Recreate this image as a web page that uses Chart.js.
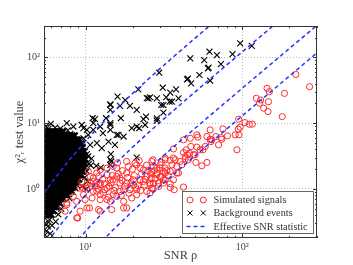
<!DOCTYPE html>
<html><head><meta charset="utf-8">
<script src="https://cdn.jsdelivr.net/npm/chart.js@4/dist/chart.umd.min.js"></script>
<style>html,body{margin:0;padding:0;background:#fff}#c{display:block}</style>
</head><body>
<canvas id="c" width="353" height="265"></canvas>
<script>
// ---- axis ranges / tick labels ----
const xRange = [5.43, 300];
const yRange = [0.18, 300];
const superscripts = {'-1':'⁻¹', '0':'⁰', '1':'¹', '2':'²', '3':'³'};

// ---- legend labels ----
const legendLabels = ['Simulated signals', 'Background events', 'Effective SNR statistic'];

// ---- effective SNR statistic contours (rho_eff = 5, 8, 11, 14) ----
const contourRho = [5.4, 6, 7, 8, 10, 12, 15, 20, 25, 30, 40, 50, 60, 80, 100, 150, 200, 300];
const contour5  = [0.859, 1.206, 1.94, 2.874, 5.333, 8.55, 14.73, 28.44, 46.3, 68.2, 124.1, 196.1, 284.1, 508, 796, 1796, 3196, 7196];
const contour8  = [0.1311, 0.184, 0.296, 0.4386, 0.8138, 1.305, 2.247, 4.34, 7.064, 10.41, 18.94, 29.92, 43.34, 77.52, 121.5, 274.0, 487.7, 1098];
const contour11 = [0.0367, 0.0515, 0.0828, 0.1227, 0.2277, 0.365, 0.6287, 1.2142, 1.976, 2.912, 5.298, 8.37, 12.126, 21.69, 33.98, 76.67, 136.4, 307.2];
const contour14 = [0.01398, 0.01961, 0.03157, 0.04676, 0.08677, 0.1391, 0.2396, 0.4628, 0.7532, 1.1097, 2.019, 3.19, 4.621, 8.265, 12.95, 29.22, 52.0, 117.1];

// ---- simulated signals [rho, chi2_r] ----
const signalPoints = [
[220,55],[269,35.9],[144,33.9],[149,30.1],[186,28.4],[123,23.9],[131,22.5],[147,21.2],[129,20.1],[137,16.9],[146,15],[180,12.6],[94.9,11.5],[104,10.2],[111,9.66],[116,9.66],[97,8.7],[94.3,8.1],[75.3,8.2],[62.4,7.9],[90.2,6.65],[95.3,6.65],[80.5,6.43],[52.1,6.14],[59.5,6.27],[62.4,5.7],[73.4,6.05],[73.9,5.7],[67.9,6.27],[63.1,5.26],[70.6,4.69],[58.1,4.43],[56.1,3.94],[48.9,3.31],[36.4,4.07],[43.9,3.94],[47,4.43],[51.3,4.33],[42.2,3.58],[43.3,3.12],[44.8,3.31],[43.3,2.88],[46,3.5],[92.5,3.94],[37.3,2.78],[32.2,2.95],[34.7,2.72],[26.9,2.78],[41.2,2.33],[50.6,2.53],[55.2,2.25],[59.5,2.53],[29.9,2.33],[28.5,2.08],[32.2,2.08],[26.5,1.85],[31.4,1.85],[39.2,1.75],[33.8,1.59],[29.9,1.52],[31.4,1.38],[27.8,1.42],[36.4,1.38],[34.7,1.2],[31.4,1.23],[27.1,1.23],[29.2,1.09],[36.8,0.976],[42.2,1.07],[26.5,1.03],[25.8,0.87],
[42.2,5.58],[46.6,5.9],[51.3,6.65],[64,5.58],[53.9,3.94],[50,3.31],[40.2,2.62],[45.3,2.78],[34.7,1.85],[38.2,1.75],[34.7,1.05],
[15.8,2.08],[18.8,2.2],[21.2,2.33],[22.3,2.08],[27.1,2.2],[28.5,1.75],[13.7,1.65],[12.1,1.55],[10.7,1.55],[11.2,1.3],[12.4,1.23],[14.4,1.38],[16.6,1.47],[18.3,1.23],[20.2,1.38],[23.4,1.3],[25.8,1.16],[29.2,1.23],[24.6,0.92],[21.2,0.82],[19.2,0.976],[16.6,0.92],[15,0.82],[13.3,0.976],[11.8,0.92],[10.2,1.03],[9.7,0.82],[11,0.73],[12.4,0.689],[14.4,0.648],[17.5,0.648],[19.7,0.73],[18.3,0.515],[14.7,0.486],[12.1,0.486],[10.2,0.515],[8.79,0.648],[7.59,0.614],[7.4,0.46],[8.79,0.364],[12.4,0.46],[9.23,1.03],[9.46,1.3],[10.4,1.85],
[7.59,0.578],[8.92,0.364],[9.23,0.46],[10.6,0.515],[17.5,0.515],[9.93,0.689],[13.7,0.689],[9.7,1.03],[10.7,1.23],[11.2,1.47],[11.8,1.75],[12.4,1.96],[13.7,2.08],[15,2.2],[18.3,2.62],[20.7,2.48],[23.4,1.96],[26.5,2.62],[29.9,2.08],[32.2,2.78],[36.4,2.95],[35.6,2.33],[38.2,2.2],[15.8,1.55],[18.3,1.75],[16.6,1.23],[20.2,1.16],[22.3,1.38],[24.6,1.55],[21.2,0.976],[25.8,1.23],[28.5,1.65],[32.2,1.75],[32.2,1.38],[13.7,1.03],[12.4,1.16],[15,1.38],[11.2,0.92],[8.36,0.77],[12.4,0.82],[15.8,0.77],[17.5,0.976],
[11.5,1.1],[12.9,1.4],[13.2,1.2],[14.1,1.1],[14.8,1.6],[15.5,1.05],[16.2,1.7],[17.1,1.35],[17.8,1.1],[18.6,1.5],[19.5,1.25],[20.5,1.6],[21.6,1.12],[22.8,1.7],[24,1.4],[25,1.9],[26.2,1.45],[27.5,1.9],[30.5,1.55],[33,1.9],[12,1.0],[13,0.88],[14,0.75],[15.2,0.95],[16.9,0.8],[18.9,0.86],[20.9,1.05],[22.5,0.95],[23.8,1.15],[27,1.0],[19.9,2.0],[17.2,1.9],[24.5,2.3],[26,1.7],[16,2.5],[22,2.7],[30.5,2.55],[11.8,1.28],[10.9,1.1],[14.6,1.25]
];

// ---- background events: dense core (rows of chi2 level with rho values) ----
const bgDenseChi2 = [7.41, 6.46, 5.62, 4.90, 4.27, 3.72, 3.24, 2.82, 2.45, 2.14, 1.86, 1.62, 1.41, 1.23, 1.07, 0.933, 0.813, 0.708, 0.617, 0.537, 0.468, 0.407];
const bgDenseRho = [
[5.45,5.7,5.92,6.22,6.5,6.8,7.1],
[5.56,5.8,6.05,6.33,6.63,6.9,7.25,7.55,7.9,8.2,8.5],
[5.45,5.67,5.94,6.2,6.47,6.78,7.06,7.4,7.7,8.08,8.42,8.8,9.1],
[5.56,5.82,6.06,6.35,6.6,6.93,7.22,7.56,7.88,8.26,8.6,9.0,9.42],
[5.45,5.69,5.93,6.19,6.49,6.76,7.08,7.38,7.73,8.06,8.44,8.8,9.2,9.55],
[5.56,5.8,6.07,6.34,6.61,6.92,7.24,7.54,7.9,8.24,8.63,9.0,9.38,9.7],
[5.45,5.68,5.94,6.2,6.48,6.78,7.06,7.4,7.72,8.08,8.42,8.82,9.2,9.58,9.8],
[5.56,5.81,6.06,6.33,6.62,6.91,7.23,7.56,7.88,8.26,8.61,9.02,9.4,9.78,9.95],
[5.45,5.68,5.93,6.21,6.47,6.77,7.08,7.39,7.72,8.07,8.43,8.8,9.21,9.6,9.92],
[5.56,5.8,6.06,6.34,6.62,6.92,7.23,7.55,7.89,8.25,8.62,9.0,9.4,9.78],
[5.45,5.68,5.93,6.2,6.48,6.77,7.07,7.39,7.72,8.07,8.43,8.81,9.2,9.62],
[5.56,5.8,6.06,6.34,6.62,6.92,7.23,7.55,7.89,8.25,8.62,9.0,9.35],
[5.45,5.68,5.93,6.2,6.48,6.77,7.07,7.39,7.72,8.07,8.43,8.81,9.05],
[5.56,5.8,6.06,6.34,6.62,6.92,7.23,7.55,7.89,8.25,8.65],
[5.45,5.68,5.93,6.2,6.48,6.77,7.07,7.39,7.72,8.07,8.4],
[5.56,5.8,6.06,6.34,6.62,6.92,7.23,7.55,7.89,8.12],
[5.45,5.68,5.93,6.2,6.48,6.77,7.07,7.39,7.66],
[5.56,5.8,6.06,6.34,6.62,6.92,7.22],
[5.45,5.68,5.93,6.2,6.48,6.8],
[5.56,5.8,6.06,6.34,6.5],
[5.45,5.68,5.93,6.22],
[5.56,5.8,6.04]
];
// ---- background events: scattered [rho, chi2_r] ----
const bgSparse = [
[97,163],[115,150],[61.8,122],[68.9,108],[86.7,112],[46.6,96.6],[57.2,91],[73.1,79],[60.4,68],[61,70],[29.5,58.5],[53.3,54],[44.4,46.4],[45,47.5],[62.4,44.2],[47.2,40.4],[31.1,34.6],[37.8,32.7],[34.7,29.1],[32.7,24.8],[28.5,23.9],[39.2,23.9],[34.4,21.2],[25.8,24.8],[30.4,18.9],[31.4,14.5],[28.5,10.9],
[21.7,32.7],[16,25.3],[14.4,18.9],[16.6,18.3],[17.9,22.5],[19.2,18.3],[25.2,23.9],[35.6,21.2],[31.4,18.9],[21.2,15.9],[24.3,12.6],[23.4,11.5],[28.5,11.8],[14.4,15.9],[16.8,11.9],[13.5,11.9],[14.4,10],[11.5,11.5],[11.2,7.9],[12.4,8.9],[14.4,7.9],[19.7,8.4],[21.2,8.9],[22,8.4],[24,9.4],[12.9,7.05],[15.8,6.65],[9.46,9.4],[10.2,7.9],[7.59,10],
[14.4,19.4],[24.6,24],[11.1,11.9],[14.4,9.4],[16.2,6.65],[17.5,6.27],[14,5.26],[15.4,4.69],[11.8,4.98],[12.7,4.18],[14.5,3.39],[21.2,3.01],[14.6,2.62],[12.5,2.12],[11.7,2.25],[10.8,2.28],[10.2,1.85],
[9.7,8.4],[8.36,8.9],[11.2,10],[10.4,6.65],[9.7,5.9],[10.7,4.69],[9.93,3.72],[10.4,3.12],[9.7,2.62],[9.23,1.85],[14.4,2.78],[14.4,2.33],
[5.6,9.0],[6.0,9.8],[6.4,8.6],[6.9,8.3],[5.8,8.2],[7.7,7.8],[8.0,6.9],[7.3,7.6],
[9.9,1.5],[10.3,1.3],[9.5,1.1],[10.1,1.0],[9.8,2.0],[10.5,2.4],[10.9,2.9],[10.2,3.4],
[5.5,0.36],[5.9,0.34],[5.5,0.3],[5.75,0.27],[6.1,0.28],[5.62,0.23],[5.95,0.21],[6.45,0.32],[6.7,0.41],[6.22,0.46],[7.0,0.5],[5.65,0.29],[5.5,0.2],[6.9,0.6],[7.4,0.82],[7.9,0.72],[8.3,0.9],[8.6,1.02],[8.8,1.15]
];

// ---- build datasets ----
const toXY = arr => arr.map(p => ({x: p[0], y: p[1]}));
const bgCore = [];
bgDenseChi2.forEach((c, i) => bgDenseRho[i].forEach(r => bgCore.push({x: r, y: c})));
const contourData = ys => contourRho.map((r, i) => ({x: r, y: ys[i]}));

const BLUE = '#2233ff', RED = '#ff2a2a', SERIF = "'Liberation Serif', 'Times New Roman', serif", TXT = '#444';

const lineDs = (ys) => ({
  data: contourData(ys), showLine: true, pointRadius: 0, borderColor: BLUE, borderWidth: 1.5,
  borderDash: [4, 3], fill: false, order: 0, clip: 0
});

const isPow10 = v => { const e = Math.log10(v); return Math.abs(e - Math.round(e)) < 1e-6; };
const isNiceTick = v => { const e = Math.floor(Math.log10(v) + 1e-9); const s = v / Math.pow(10, e); return Math.abs(s - Math.round(s)) < 1e-6; };
const tickLabel = v => isPow10(v) ? '10' + superscripts[String(Math.round(Math.log10(v)))] : '';

const framePlugin = {
  id: 'frameLegend',
  afterDatasetsDraw(chart) {
    const {ctx, chartArea: a, scales: {x, y}} = chart;
    ctx.save();
    ctx.strokeStyle = '#333'; ctx.lineWidth = 1;
    ctx.beginPath();
    x.ticks.forEach(t => {
      if (!isNiceTick(t.value)) return;
      const px = Math.round(x.getPixelForValue(t.value)) + 0.5;
      const L = isPow10(t.value) ? 4 : 2;
      ctx.moveTo(px, a.bottom); ctx.lineTo(px, a.bottom - L);
      ctx.moveTo(px, a.top); ctx.lineTo(px, a.top + L);
    });
    y.ticks.forEach(t => {
      if (!isNiceTick(t.value)) return;
      const py = Math.round(y.getPixelForValue(t.value)) + 0.5;
      const L = isPow10(t.value) ? 4 : 2;
      ctx.moveTo(a.left, py); ctx.lineTo(a.left + L, py);
      ctx.moveTo(a.right, py); ctx.lineTo(a.right - L, py);
    });
    ctx.stroke();
    ctx.strokeRect(a.left + 0.5, a.top + 0.5, a.right - a.left - 1, a.bottom - a.top - 1);

    // legend box (inside axes, lower right)
    const w = 131, h = 42;
    const bx = Math.round(a.right - 4 - w) + 0.5, by = Math.round(a.bottom - 5 - h) + 0.5;
    ctx.fillStyle = '#fff';
    ctx.fillRect(bx, by, w, h);
    ctx.strokeStyle = '#666'; ctx.lineWidth = 1;
    ctx.strokeRect(bx, by, w, h);
    const rows = [by + 8.5, by + 21.5, by + 35];
    const m1 = bx + 7.5, m2 = bx + 20.8;
    ctx.strokeStyle = RED; ctx.lineWidth = 1;
    [m1, m2].forEach(mx => { ctx.beginPath(); ctx.arc(mx, rows[0], 3, 0, Math.PI * 2); ctx.stroke(); });
    ctx.strokeStyle = '#000';
    [m1, m2].forEach(mx => {
      ctx.beginPath();
      ctx.moveTo(mx - 2.5, rows[1] - 2.5); ctx.lineTo(mx + 2.5, rows[1] + 2.5);
      ctx.moveTo(mx + 2.5, rows[1] - 2.5); ctx.lineTo(mx - 2.5, rows[1] + 2.5);
      ctx.stroke();
    });
    ctx.strokeStyle = BLUE; ctx.lineWidth = 1.5; ctx.setLineDash([4, 3]);
    ctx.beginPath(); ctx.moveTo(m1 - 3.5, rows[2]); ctx.lineTo(m2 + 3.5, rows[2]); ctx.stroke();
    ctx.setLineDash([]);
    ctx.fillStyle = '#333';
    ctx.font = '10.3px ' + SERIF;
    ctx.textBaseline = 'middle'; ctx.textAlign = 'left';
    legendLabels.forEach((t, i) => ctx.fillText(t, bx + 31, rows[i] + 0.5));
    ctx.restore();
  }
};

new Chart(document.getElementById('c'), {
  type: 'scatter',
  data: {
    datasets: [
      lineDs(contour5), lineDs(contour8), lineDs(contour11), lineDs(contour14),
      { data: toXY(signalPoints), pointStyle: 'circle', pointRadius: 3.1, pointBorderWidth: 1,
        borderColor: RED, backgroundColor: 'rgba(0,0,0,0)', order: 1, clip: 0 },
      { data: toXY(bgSparse), pointStyle: 'crossRot', pointRadius: 4.2, pointBorderWidth: 1.1,
        borderColor: '#000', backgroundColor: '#000', order: 2, clip: 0 },
      { data: bgCore, pointStyle: 'crossRot', pointRadius: 4.4, pointBorderWidth: 2.4,
        borderColor: '#000', backgroundColor: '#000', order: 3, clip: 0 }
    ]
  },
  options: {
    responsive: false, animation: false, devicePixelRatio: 1,
    layout: { padding: { left: 0, right: 36, top: 26, bottom: 0 } },
    plugins: { legend: { display: false }, tooltip: { enabled: false } },
    scales: {
      x: {
        type: 'logarithmic', min: xRange[0], max: xRange[1], position: 'bottom',
        afterFit: s => { s.height = 27; },
        grid: { drawTicks: false, lineWidth: 1, color: c => (c.tick && isPow10(c.tick.value)) ? '#bdbdbd' : 'rgba(0,0,0,0)' },
        border: { display: false, dash: [1, 2] },
        ticks: { autoSkip: false, maxRotation: 0, padding: 3, color: TXT, font: { family: SERIF, size: 10 }, callback: v => tickLabel(v) },
        title: { display: true, text: 'SNR ρ', color: TXT, font: { family: SERIF, size: 12.5 }, padding: { top: 0, bottom: 2 } }
      },
      y: {
        type: 'logarithmic', min: yRange[0], max: yRange[1],
        afterFit: s => { s.width = 44; },
        grid: { drawTicks: false, lineWidth: 1, color: c => (c.tick && isPow10(c.tick.value)) ? '#bdbdbd' : 'rgba(0,0,0,0)' },
        border: { display: false, dash: [1, 2] },
        ticks: { autoSkip: false, padding: 4, color: TXT, font: { family: SERIF, size: 10 }, callback: v => tickLabel(v) },
        title: { display: true, text: 'χ²ᵣ test value', color: TXT, font: { family: SERIF, size: 12.5 }, padding: { top: 12, bottom: 0 } }
      }
    }
  },
  plugins: [framePlugin]
});
</script>
</body></html>
